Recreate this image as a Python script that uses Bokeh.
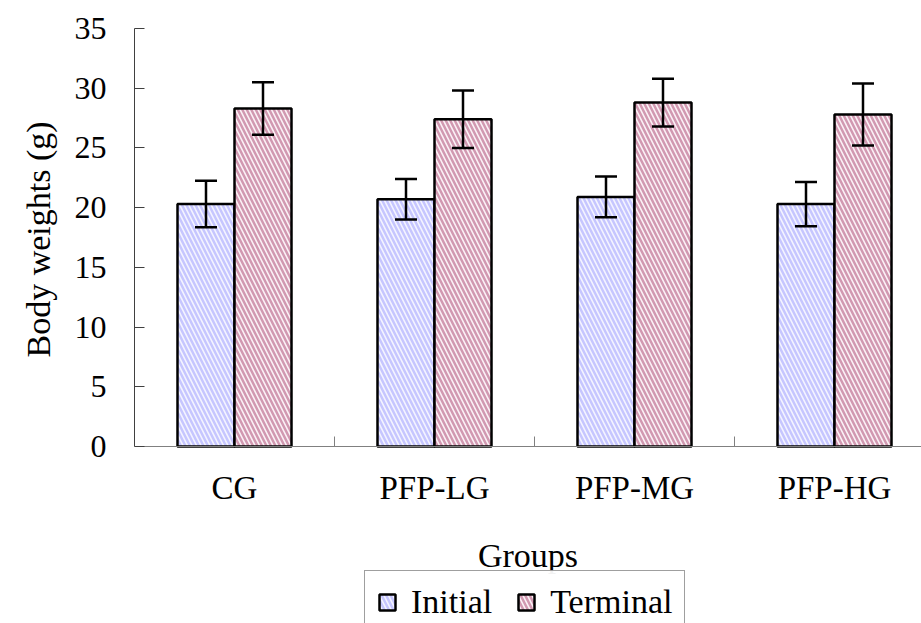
import numpy as np
from bokeh.plotting import figure
from bokeh.models import (ColumnDataSource, Range1d, FixedTicker, Whisker, TeeHead,
                          Legend, LegendItem, Title)
from bokeh.embed import file_html
from bokeh.resources import INLINE

# ---- data ----
groups = ["CG", "PFP-LG", "PFP-MG", "PFP-HG"]
initial = [20.3, 20.7, 20.9, 20.3]
initial_err = [1.95, 1.7, 1.7, 1.85]
terminal = [28.3, 27.4, 28.8, 27.8]
terminal_err = [2.2, 2.4, 2.0, 2.6]
y_ticks = [0, 5, 10, 15, 20, 25, 30, 35]

FONT = "Liberation Serif"
bw = 0.285
centers = np.arange(len(groups)) + 0.5

src = ColumnDataSource(dict(
    xi=centers - bw / 2,
    xt=centers + bw / 2,
    initial=initial,
    terminal=terminal,
    i_up=np.array(initial) + np.array(initial_err),
    i_lo=np.array(initial) - np.array(initial_err),
    t_up=np.array(terminal) + np.array(terminal_err),
    t_lo=np.array(terminal) - np.array(terminal_err),
))

# frame: top 28 px, 35 units = 418 px, extends to bottom of canvas
p = figure(width=921, height=623, output_backend="svg", toolbar_location=None,
           x_range=Range1d(0, 3.935), y_range=Range1d(-14.82, 35),
           min_border_left=134, min_border_right=0, min_border_top=28,
           min_border_bottom=0)
p.outline_line_color = None
p.xgrid.visible = False
p.ygrid.visible = False
p.background_fill_color = "white"

r1 = p.vbar(x="xi", top="initial", width=bw, bottom=0, source=src,
            fill_color="#f4f4ff", line_color="black", line_width=2.5,
            hatch_pattern="\\", hatch_color="#a0a0ff", hatch_alpha=0.55,
            hatch_weight=2.5, hatch_scale=9)
r2 = p.vbar(x="xt", top="terminal", width=bw, bottom=0, source=src,
            fill_color="#fbf2f6", line_color="black", line_width=2.5,
            hatch_pattern="\\", hatch_color="#a8406c", hatch_alpha=0.5,
            hatch_weight=2.5, hatch_scale=9)

for xc, up, lo in (("xi", "i_up", "i_lo"), ("xt", "t_up", "t_lo")):
    w = Whisker(base=xc, upper=up, lower=lo, source=src, level="overlay",
                line_color="black", line_width=2.5,
                upper_head=TeeHead(size=22, line_color="black", line_width=2.5),
                lower_head=TeeHead(size=22, line_color="black", line_width=2.5))
    p.add_layout(w)

# y axis
ya = p.yaxis[0]
ya.ticker = FixedTicker(ticks=y_ticks, minor_ticks=[])
ya.bounds = (0, 35)
ya.major_tick_in = 10
ya.major_tick_out = 0
ya.axis_line_color = "#404040"
ya.major_tick_line_color = "#404040"
ya.major_label_text_font = FONT
ya.major_label_text_font_size = "32px"
ya.major_label_text_color = "black"
ya.major_label_standoff = 28

# y axis title, placed beside the 0-35 part of the axis
p.add_layout(Title(text="Body weights (g)", align="left", offset=266, standoff=30,
                   text_font=FONT, text_font_size="34px", text_font_style="normal",
                   text_color="black"), "left")

# x axis at y = 0: labels at group centres, tick marks between groups
xa = p.xaxis[0]
xa.fixed_location = 0
xa.ticker = FixedTicker(ticks=list(centers), minor_ticks=list(np.arange(1, len(groups))))
xa.major_label_overrides = {float(c): g for c, g in zip(centers, groups)}
xa.major_tick_line_color = None
xa.minor_tick_in = 10
xa.minor_tick_out = 0
xa.minor_tick_line_color = "#808080"
xa.axis_line_color = "#808080"
xa.major_label_text_font = FONT
xa.major_label_text_font_size = "33px"
xa.major_label_text_color = "black"
xa.major_label_standoff = 17
xa.axis_label = "Groups"
xa.axis_label_text_font = FONT
xa.axis_label_text_font_size = "34px"
xa.axis_label_text_font_style = "normal"
xa.axis_label_text_color = "black"
xa.axis_label_standoff = 28

legend = Legend(items=[LegendItem(label="Initial", renderers=[r1]),
                       LegendItem(label="Terminal", renderers=[r2])],
                orientation="horizontal", location=(230, -11),
                label_text_font=FONT, label_text_font_size="34px",
                label_text_color="black",
                glyph_width=20, glyph_height=20, label_standoff=14,
                spacing=24, padding=12, margin=0,
                border_line_color="#404040", border_line_width=1,
                background_fill_color="white")
p.add_layout(legend)

open("out.html", "w").write(file_html(p, INLINE))
